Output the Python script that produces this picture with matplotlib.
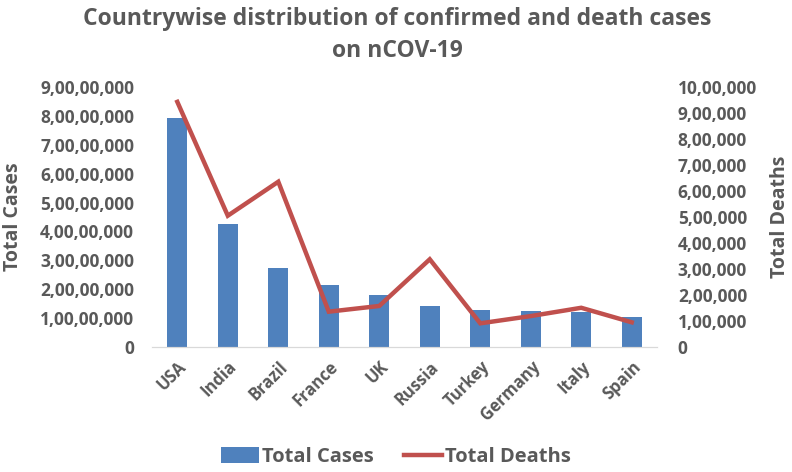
import numpy as np
import matplotlib.pyplot as plt
from matplotlib.ticker import FuncFormatter, MultipleLocator

# data
countries = ["USA", "India", "Brazil", "France", "UK", "Russia",
             "Turkey", "Germany", "Italy", "Spain"]
total_cases = [79200000, 42500000, 27200000, 21400000, 17900000,
               14000000, 12700000, 12300000, 11900000, 10300000]
total_deaths = [944000, 505000, 636000, 135000, 157000,
                337000, 90000, 118000, 150000, 94000]

BAR = "#4F81BD"
LINE = "#C0504D"
TXT = "#595959"
plt.rcParams['font.family'] = ['Open Sans', 'DejaVu Sans']
plt.rcParams['font.weight'] = 'bold'


def indian(v, pos=None):
    # Indian digit grouping: 9,00,00,000
    s = str(int(round(v)))
    if len(s) <= 3:
        return s
    head, tail = s[:-3], s[-3:]
    parts = []
    while len(head) > 2:
        parts.insert(0, head[-2:])
        head = head[:-2]
    if head:
        parts.insert(0, head)
    return ",".join(parts) + "," + tail


fig = plt.figure(figsize=(7.92, 4.72), dpi=100)
ax = fig.add_axes([0.192, 0.2655, 0.6375, 0.5495])
ax2 = ax.twinx()

x = np.arange(len(countries))
bars = ax.bar(x, total_cases, width=0.4, color=BAR, label="Total Cases", zorder=2)
line, = ax2.plot(x, total_deaths, color=LINE, lw=3.2, label="Total Deaths",
                 solid_joinstyle='miter', zorder=3)

ax.set_xlim(-0.5, len(countries) - 0.5)
ax.set_ylim(0, 9e7)
ax2.set_ylim(0, 1e6)
ax.yaxis.set_major_locator(MultipleLocator(1e7))
ax2.yaxis.set_major_locator(MultipleLocator(1e5))
ax.yaxis.set_major_formatter(FuncFormatter(indian))
ax2.yaxis.set_major_formatter(FuncFormatter(indian))

for a in (ax, ax2):
    for side in ("top", "left", "right"):
        a.spines[side].set_visible(False)
    a.spines["bottom"].set_color("#D9D9D9")
    a.tick_params(length=0, labelsize=12, labelcolor=TXT)
ax.tick_params(axis='y', pad=13, labelsize=12.5)
ax2.tick_params(axis='y', pad=15, labelsize=12.5)

ax.set_xticks(x)
ax.set_xticklabels(countries, rotation=45, ha='right', rotation_mode='anchor')
ax.tick_params(axis='x', pad=8)

ax.set_ylabel("Total Cases", fontsize=14, color=TXT, fontweight='bold', labelpad=12)
ax2.set_ylabel("Total Deaths", fontsize=14, color=TXT, fontweight='bold', labelpad=9)

fig.suptitle("Countrywise distribution of confirmed and death cases\non nCOV-19",
             x=0.502, y=0.985, fontsize=16.5, color=TXT, fontweight='bold',
             linespacing=1.45)

fig.legend([bars, line], ["Total Cases", "Total Deaths"], loc='lower center',
           bbox_to_anchor=(0.5, -0.028), ncol=2, frameon=False, fontsize=14.5,
           labelcolor=TXT, handlelength=1.9, handleheight=0.8,
           handletextpad=0.15, columnspacing=1.5)

fig.savefig("out.png", dpi=100)
